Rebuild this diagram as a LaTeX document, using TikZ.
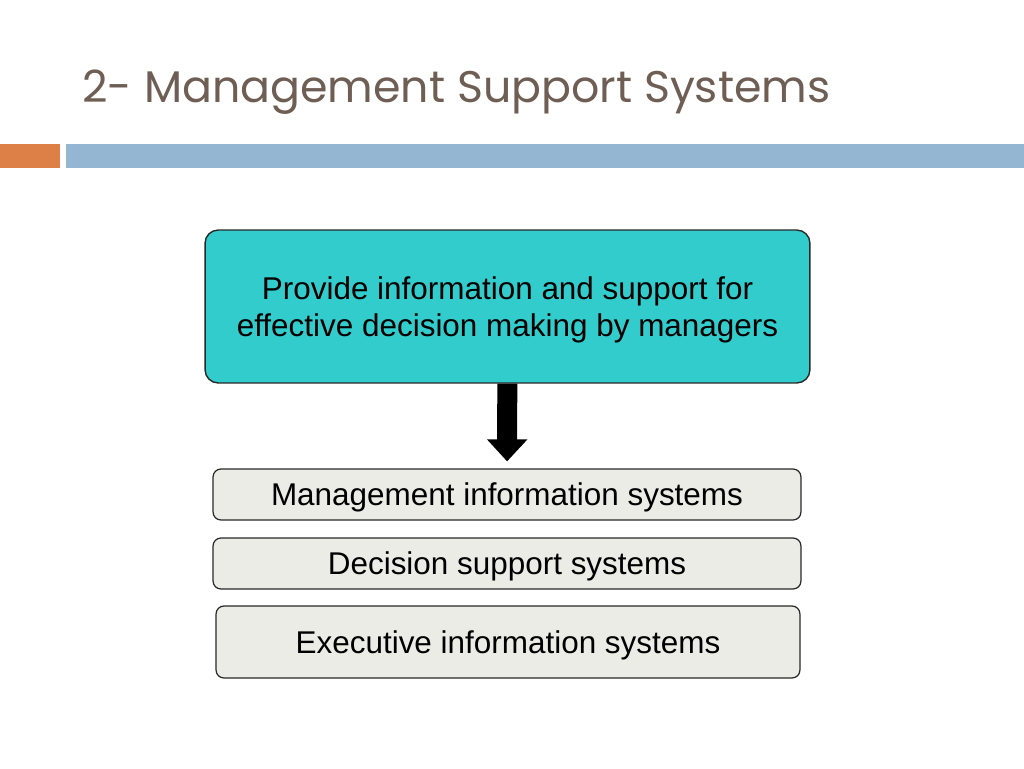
\documentclass[tikz,border=0pt]{standalone}
\usepackage{fontspec}
\setmainfont{Liberation Sans}
\newfontfamily\titlefont{Poppins}
\usepackage{xcolor}
\usepackage{tikz}
\usetikzlibrary{arrows.meta,positioning}
\definecolor{mstitle}{RGB}{110,94,84}
\definecolor{msorange}{RGB}{221,128,71}
\definecolor{msblue}{RGB}{148,182,210}
\definecolor{mscyan}{RGB}{51,204,204}
\definecolor{msgray}{RGB}{236,236,230}
\definecolor{msedge}{RGB}{40,40,40}
\tikzset{
  goalbox/.style={rounded corners=7.5pt,draw=msedge,line width=0.8pt,fill=mscyan,minimum width=12.1cm,minimum height=3.06cm,align=center,text depth=0pt,font=\fontsize{17.9}{21.5}\selectfont},
  sysbox/.style={rounded corners=4.5pt,draw=msedge,line width=0.7pt,fill=msgray,minimum width=11.76cm,minimum height=1.02cm,text depth=0pt,font=\fontsize{17.9}{20}\selectfont},
  bigarr/.style={-{Triangle[length=0.44cm,width=0.78cm]},line width=0.4cm,draw=black,shorten >=0.14cm},
}
\begin{document}
\begin{tikzpicture}[x=0.02cm,y=-0.02cm]
  \useasboundingbox (0,0) rectangle (1024,768);
  % title and bars
  \node[anchor=base west,inner sep=0pt,text=mstitle,font=\titlefont\fontsize{25.2}{30}\selectfont] (title) at (82,102) {2- Management Support Systems};
  \fill[msorange] (0,144) rectangle (60,168);
  \fill[msblue] (66,144) rectangle (1024,168);

  \node[goalbox] (goal) at (507.5,306.5) {Provide information and support for\\effective decision making by managers};
  \node[sysbox] (mis) at (507,494.5) {Management information systems};
  \node[sysbox] (dss) at (507,563.5) {Decision support systems};
  \node[sysbox,minimum width=11.68cm,minimum height=1.44cm] (eis) at (508,642) {Executive information systems};
  \draw[bigarr] (goal) -- (mis);
\end{tikzpicture}
\end{document}
